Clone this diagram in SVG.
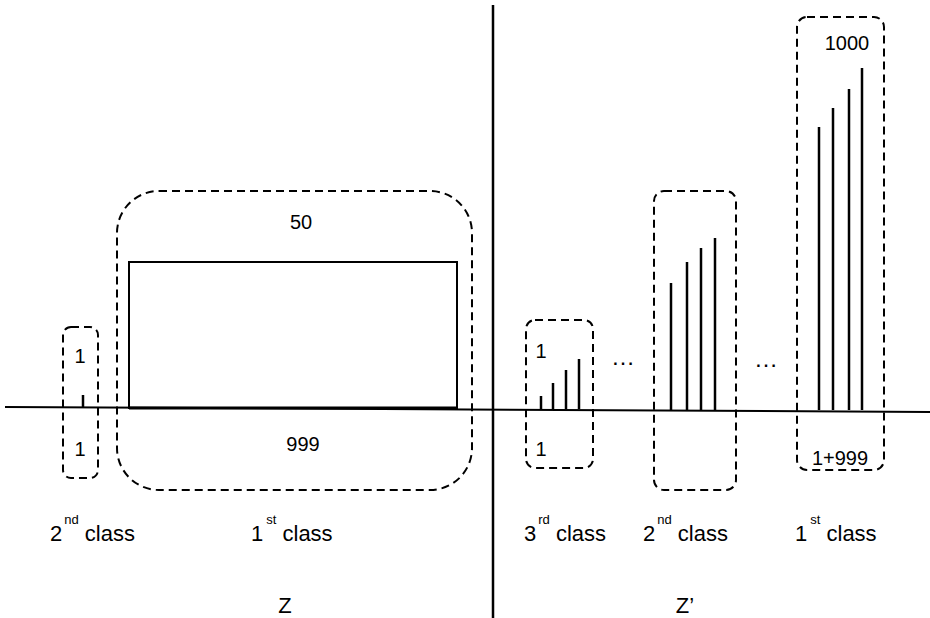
<svg xmlns="http://www.w3.org/2000/svg" width="930" height="618" viewBox="0 0 930 618">
<style>
.box{fill:none;stroke:#000;stroke-width:2;stroke-dasharray:8,5}
.bar{stroke:#000;stroke-width:2.5}
.t{font-family:"Liberation Sans",Arial,sans-serif;font-size:20px;fill:#000;text-anchor:middle}
.d{font-family:"Liberation Sans",Arial,sans-serif;font-size:24px;fill:#000;text-anchor:middle}
.l{font-family:"Liberation Sans",Arial,sans-serif;font-size:22px;fill:#000}
.s{font-size:13px}
</style>
<rect width="930" height="618" fill="#fff"/>
<g id="connectors">
<line x1="5" y1="407" x2="930" y2="412" stroke="#000" stroke-width="2"/>
<line x1="493" y1="5" x2="493" y2="618" stroke="#000" stroke-width="2.5"/>
</g>
<g id="z-2nd">
<rect class="box" x="63" y="327" width="35" height="151" rx="8"/>
<line class="bar" x1="83" y1="395" x2="83" y2="408"/>
<text class="t" x="80" y="363">1</text>
<text class="t" x="80" y="456">1</text>
</g>
<g id="z-1st">
<rect class="box" x="117" y="191" width="355" height="299" rx="42"/>
<rect x="129" y="262" width="328" height="146" fill="none" stroke="#000" stroke-width="2"/>
<line x1="129" y1="408" x2="457" y2="408" stroke="#000" stroke-width="3"/>
<text class="t" x="301" y="229">50</text>
<text class="t" x="303" y="451">999</text>
</g>
<g id="zp-3rd">
<rect class="box" x="526" y="320" width="67" height="148" rx="9"/>
<line class="bar" x1="541" y1="396" x2="541" y2="409" stroke-width="2"/>
<line class="bar" x1="553" y1="383" x2="553" y2="409" stroke-width="2"/>
<line class="bar" x1="566" y1="370" x2="566" y2="409" stroke-width="2"/>
<line class="bar" x1="579" y1="359" x2="579" y2="409"/>
<text class="t" x="541" y="358">1</text>
<text class="t" x="541" y="456">1</text>
</g>
<g id="dots">
<text class="d" x="623" y="365">…</text>
<text class="d" x="766" y="367">…</text>
</g>
<g id="zp-2nd">
<rect class="box" x="654" y="191" width="82" height="299" rx="10"/>
<line class="bar" x1="671" y1="283" x2="671" y2="410"/>
<line class="bar" x1="687" y1="262" x2="687" y2="410"/>
<line class="bar" x1="701" y1="248" x2="701" y2="410"/>
<line class="bar" x1="715" y1="238" x2="715" y2="410"/>
</g>
<g id="zp-1st">
<rect class="box" x="797" y="17" width="87" height="453" rx="10"/>
<line class="bar" x1="819" y1="127" x2="819" y2="410" stroke-width="2"/>
<line class="bar" x1="833" y1="108" x2="833" y2="410" stroke-width="2"/>
<line class="bar" x1="849" y1="89" x2="849" y2="410" stroke-width="2"/>
<line class="bar" x1="862" y1="68" x2="862" y2="410" stroke-width="2"/>
<text class="t" x="847" y="50">1000</text>
<text class="t" x="840" y="465">1+999</text>
</g>
<g id="labels">
<text class="l" x="50" y="541">2<tspan class="s" dx="2" dy="-17">nd</tspan><tspan dy="17"> class</tspan></text>
<text class="l" x="251" y="541">1<tspan class="s" dx="3" dy="-17">st</tspan><tspan dy="17"> class</tspan></text>
<text class="l" x="524" y="541">3<tspan class="s" dx="2" dy="-17">rd</tspan><tspan dy="17"> class</tspan></text>
<text class="l" x="643" y="541">2<tspan class="s" dx="2" dy="-17">nd</tspan><tspan dy="17"> class</tspan></text>
<text class="l" x="795" y="541">1<tspan class="s" dx="3" dy="-17">st</tspan><tspan dy="17"> class</tspan></text>
<text class="l" x="285" y="613" text-anchor="middle">Z</text>
<text class="l" x="685" y="613" text-anchor="middle">Z’</text>
</g>
</svg>
